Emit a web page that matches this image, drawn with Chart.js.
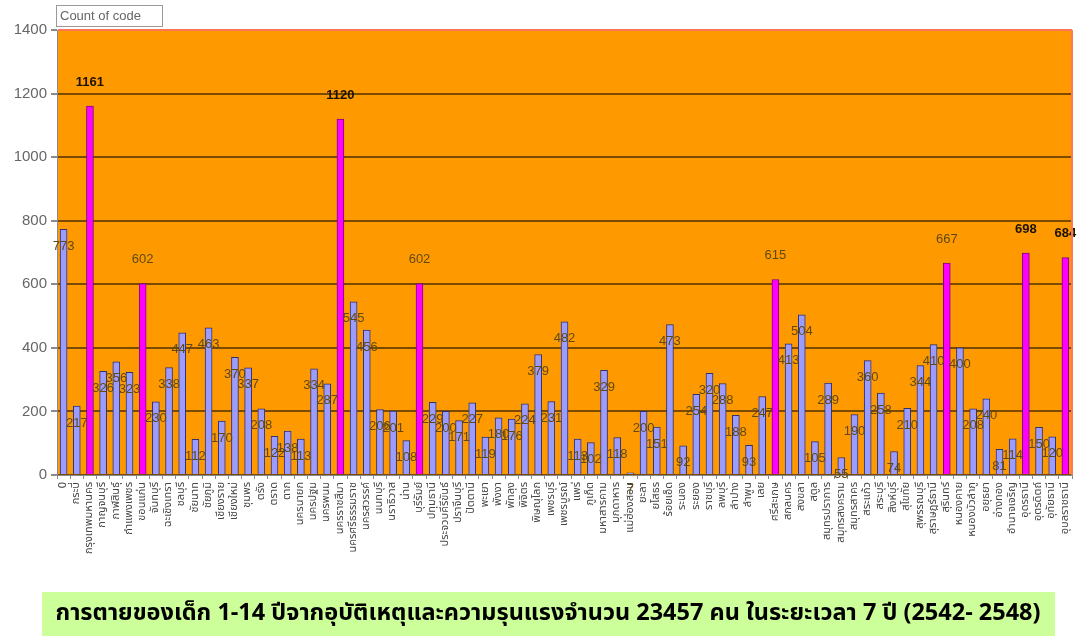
<!DOCTYPE html>
<html>
<head>
<meta charset="utf-8">
<script src="https://cdn.jsdelivr.net/npm/chart.js@4.4.1/dist/chart.umd.min.js"></script>
<style>
  body { margin: 0; background: #fff; }
</style>
</head>
<body>
<canvas id="codeChart" width="1083" height="638"></canvas>
<script>
// categories (provinces) and counts
var provinces = ["0", "กระบี่", "กรุงเทพมหานคร", "กาญจนบุรี", "กาฬสินธุ์", "กำแพงเพชร", "ขอนแก่น", "จันทบุรี",
  "ฉะเชิงเทรา", "ชลบุรี", "ชัยนาท", "ชัยภูมิ", "เชียงราย", "เชียงใหม่", "ชุมพร", "ตรัง", "ตราด", "ตาก",
  "นครนายก", "นครปฐม", "นครพนม", "นครราชสีมา", "นครศรีธรรมราช", "นครสวรรค์", "นนทบุรี", "นราธิวาส",
  "น่าน", "บุรีรัมย์", "ปทุมธานี", "ประจวบคีรีขันธ์", "ปราจีนบุรี", "ปัตตานี", "พะเยา", "พังงา", "พัทลุง",
  "พิจิตร", "พิษณุโลก", "เพชรบุรี", "เพชรบูรณ์", "แพร่", "ภูเก็ต", "มหาสารคาม", "มุกดาหาร", "แม่ฮ่องสอน",
  "ยะลา", "ยโสธร", "ร้อยเอ็ด", "ระนอง", "ระยอง", "ราชบุรี", "ลพบุรี", "ลำปาง", "ลำพูน", "เลย", "ศรีสะเกษ",
  "สกลนคร", "สงขลา", "สตูล", "สมุทรปราการ", "สมุทรสงคราม", "สมุทรสาคร", "สระแก้ว", "สระบุรี", "สิงห์บุรี",
  "สุโขทัย", "สุพรรณบุรี", "สุราษฎร์ธานี", "สุรินทร์", "หนองคาย", "หนองบัวลำภู", "อยุธยา", "อ่างทอง",
  "อำนาจเจริญ", "อุดรธานี", "อุตรดิตถ์", "อุทัยธานี", "อุบลราชธานี"];

var counts = [773, 217, 1161, 326, 356, 323, 602, 230, 338, 447, 112, 463, 170, 370, 337, 208, 122, 138,
  113, 334, 287, 1120, 545, 456, 206, 201, 108, 602, 229, 200, 171, 227, 119, 180, 176, 224, 379, 231,
  482, 113, 102, 329, 118, 7, 200, 151, 473, 92, 254, 320, 288, 188, 93, 247, 615, 413, 504, 105, 289,
  55, 190, 360, 258, 74, 210, 344, 410, 667, 400, 208, 240, 81, 114, 698, 150, 120, 684];

// provinces drawn in magenta
var highlighted = ["กรุงเทพมหานคร", "ขอนแก่น", "นครราชสีมา", "บุรีรัมย์", "ศรีสะเกษ", "สุรินทร์", "อุดรธานี", "อุบลราชธานี"];

var yTicks = [0, 200, 400, 600, 800, 1000, 1200, 1400];

var seriesName = "Count of code";
var caption = "การตายของเด็ก 1-14 ปีจากอุบัติเหตุและความรุนแรงจำนวน 23457 คน ในระยะเวลา 7 ปี (2542- 2548)";

var thaiFont = "'Noto Sans Thai', 'Loma', 'Garuda', 'Tlwg Typo', 'DejaVu Sans', sans-serif";

var fillColors = provinces.map(function (p) { return highlighted.indexOf(p) >= 0 ? "#ff00ff" : "#9c9cff"; });
var edgeColors = provinces.map(function (p) { return highlighted.indexOf(p) >= 0 ? "#7a0a7a" : "#30306e"; });

var decor = {
  id: "decor",
  beforeDraw: function (chart) {
    var a = chart.chartArea, c = chart.ctx;
    c.save();
    c.fillStyle = "#ff9900";
    c.fillRect(a.left, a.top, a.right - a.left, a.bottom - a.top);
    c.restore();
  },
  afterDatasetsDraw: function (chart) {
    var c = chart.ctx;
    var meta = chart.getDatasetMeta(0);
    c.save();
    c.textAlign = "center";
    c.textBaseline = "middle";
    meta.data.forEach(function (bar, i) {
      var v = counts[i];
      var hi = highlighted.indexOf(provinces[i]) >= 0;
      if (hi && v > 680) {
        c.font = "bold 13px Arial, 'Liberation Sans', sans-serif";
        c.fillStyle = "#1a1200";
      } else {
        c.font = "13px Arial, 'Liberation Sans', sans-serif";
        c.fillStyle = "#5e4a12";
      }
      var y = hi ? bar.y - 24 : bar.y + 17;
      c.fillText(String(v), bar.x, y);
    });
    c.restore();
  },
  afterDraw: function (chart) {
    var a = chart.chartArea, c = chart.ctx;
    c.save();
    // right edge of plot
    c.strokeStyle = "#ff7755";
    c.lineWidth = 2;
    c.beginPath();
    c.moveTo(a.right, a.top);
    c.lineTo(a.right, a.bottom);
    c.stroke();

    // field button
    c.fillStyle = "#ffffff";
    c.fillRect(56, 5, 106, 21);
    c.strokeStyle = "#9a9a9a";
    c.lineWidth = 1;
    c.strokeRect(56.5, 5.5, 106, 21);
    c.fillStyle = "#666666";
    c.font = "13px Arial, 'Liberation Sans', sans-serif";
    c.textBaseline = "middle";
    c.textAlign = "left";
    c.fillText(seriesName, 60, 16);

    // caption box
    c.fillStyle = "#ccff99";
    c.fillRect(42, 592, 1013, 44);
    c.fillStyle = "#000000";
    c.font = "bold 23px " + thaiFont;
    var w = c.measureText(caption).width;
    var target = 985;
    c.translate(548, 615);
    c.scale(target / w, 1);
    c.textAlign = "center";
    c.fillText(caption, 0, 0);
    c.restore();
  }
};

var chart = new Chart(document.getElementById("codeChart"), {
  type: "bar",
  data: {
    labels: provinces,
    datasets: [{
      label: seriesName,
      data: counts,
      backgroundColor: fillColors,
      borderColor: edgeColors,
      borderWidth: 1,
      barThickness: 7
    }]
  },
  options: {
    responsive: false,
    animation: false,
    devicePixelRatio: 1,
    layout: { padding: { top: 30, right: 11, left: 0, bottom: 48 } },
    plugins: {
      legend: { display: false },
      tooltip: { enabled: false }
    },
    scales: {
      x: {
        afterFit: function (s) { s.height = 115; },
        grid: { drawOnChartArea: false, drawTicks: true, tickLength: 4, color: "#8a8a8a" },
        border: { color: "#8a8a8a", width: 1 },
        ticks: {
          autoSkip: false,
          maxRotation: 90,
          minRotation: 90,
          padding: 3,
          color: "#444444",
          font: { size: 11, family: thaiFont }
        }
      },
      y: {
        min: 0,
        max: 1400,
        afterFit: function (s) { s.width = 57; },
        afterBuildTicks: function (s) { s.ticks = yTicks.map(function (v) { return { value: v }; }); },
        grid: {
          color: function (ctx) { return ctx.tick && ctx.tick.value === 1400 ? "#ff7755" : "#7a4a00"; },
          lineWidth: 2,
          tickLength: 6,
          tickColor: "#8a8a8a"
        },
        border: { color: "#8a8a8a", width: 1 },
        ticks: {
          color: "#666666",
          padding: 4,
          font: { size: 15, family: "Arial, 'Liberation Sans', sans-serif" },
          callback: function (v) { return String(v); }
        }
      }
    }
  },
  plugins: [decor]
});
</script>
</body>
</html>
